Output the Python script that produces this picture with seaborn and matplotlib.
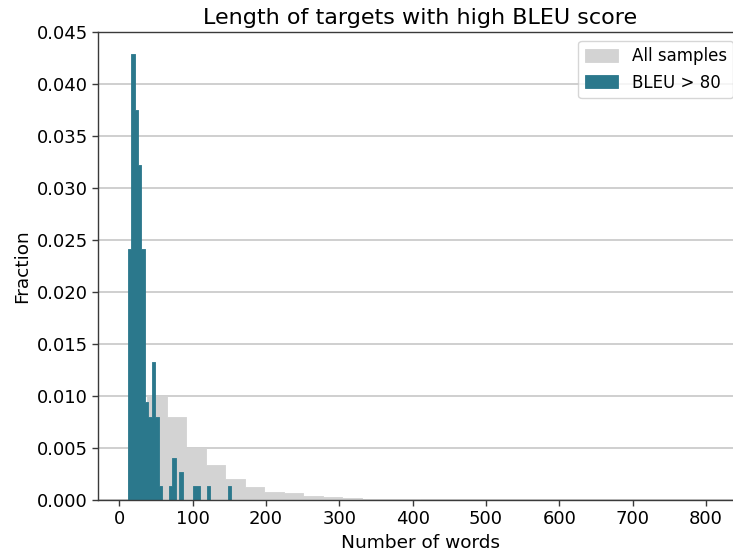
import numpy as np
import matplotlib
matplotlib.use("Agg")
import matplotlib.pyplot as plt
import seaborn as sns

# Histogram (density per bin)
ALL_MIN, ALL_MAX, ALL_BINS = 11.4, 809.0, 30
all_heights = [0.0057, 0.0100, 0.0080, 0.0050, 0.0033, 0.0020, 0.00122, 0.00074,
               0.00066, 0.00037, 0.00023, 0.00013, 0.00010, 0.00005, 0.00003,
               0.00002, 0.0, 0.0, 0.0, 0.0, 0.0, 0.0, 0.0, 0.0,
               0.0, 0.0, 0.0, 0.0, 0.0, 0.000005]

BLEU_MIN, BLEU_MAX, BLEU_BINS = 11.4, 152.3, 30
bleu_heights = [0.0241, 0.0429, 0.0375, 0.0322, 0.0241, 0.0094, 0.0080, 0.0133,
                0.0080, 0.00135, 0.0, 0.0, 0.00135, 0.0040, 0.0, 0.00266,
                0.0, 0.0, 0.0, 0.00135, 0.00135, 0.0, 0.0, 0.00135,
                0.0, 0.0, 0.0, 0.0, 0.0, 0.00135]

labels = ["All samples", "BLEU > 80"]
colors = ["#d3d3d3", "#2b788c"]
x_ticks = np.arange(0, 801, 100)
y_ticks = np.arange(0, 0.0451, 0.005)


def bin_layout(lo, hi, n):
    edges = np.linspace(lo, hi, n + 1)
    return list(edges), (edges[:-1] + edges[1:]) / 2


sns.set_style("ticks", {"axes.grid": True, "grid.color": "#cccccc",
                        "axes.edgecolor": "#3a3a3a", "xtick.color": "#3a3a3a",
                        "ytick.color": "#3a3a3a", "text.color": "black",
                        "axes.labelcolor": "black"})
plt.rcParams["font.family"] = ["DejaVu Sans"]

fig = plt.figure(figsize=(7.33, 5.54), dpi=100)
ax = fig.add_axes([0.1342, 0.0980, 0.8778, 0.8437])

all_edges, all_centers = bin_layout(ALL_MIN, ALL_MAX, ALL_BINS)
bleu_edges, bleu_centers = bin_layout(BLEU_MIN, BLEU_MAX, BLEU_BINS)

sns.histplot(x=all_centers, weights=all_heights, bins=all_edges, stat="count",
             element="step", fill=True, alpha=1, color=colors[0], linewidth=0.6,
             label=labels[0], ax=ax)
sns.histplot(x=bleu_centers, weights=bleu_heights, bins=bleu_edges, stat="count",
             element="step", fill=True, alpha=1, color=colors[1], linewidth=0.6,
             label=labels[1], ax=ax)

ax.xaxis.grid(False)
ax.yaxis.grid(True, linewidth=1.3)
ax.set_axisbelow(True)
ax.set_xticks(x_ticks)
ax.set_yticks(y_ticks)
ax.set_yticklabels([f"{v:.3f}" for v in y_ticks])
ax.set_ylim(0, 0.045)
ax.set_xlim(-28.5, 848.9)
ax.tick_params(labelsize=13, length=4, width=1, labelcolor="black")
for s in ax.spines.values():
    s.set_linewidth(1.0)

ax.set_xlabel("Number of words", fontsize=13.3)
ax.set_ylabel("Fraction", fontsize=13.3)
ax.set_title("Length of targets with high BLEU score", fontsize=16)
ax.legend(loc="upper right", fontsize=12, handleheight=0.8)

fig.savefig("out.png", dpi=100)
